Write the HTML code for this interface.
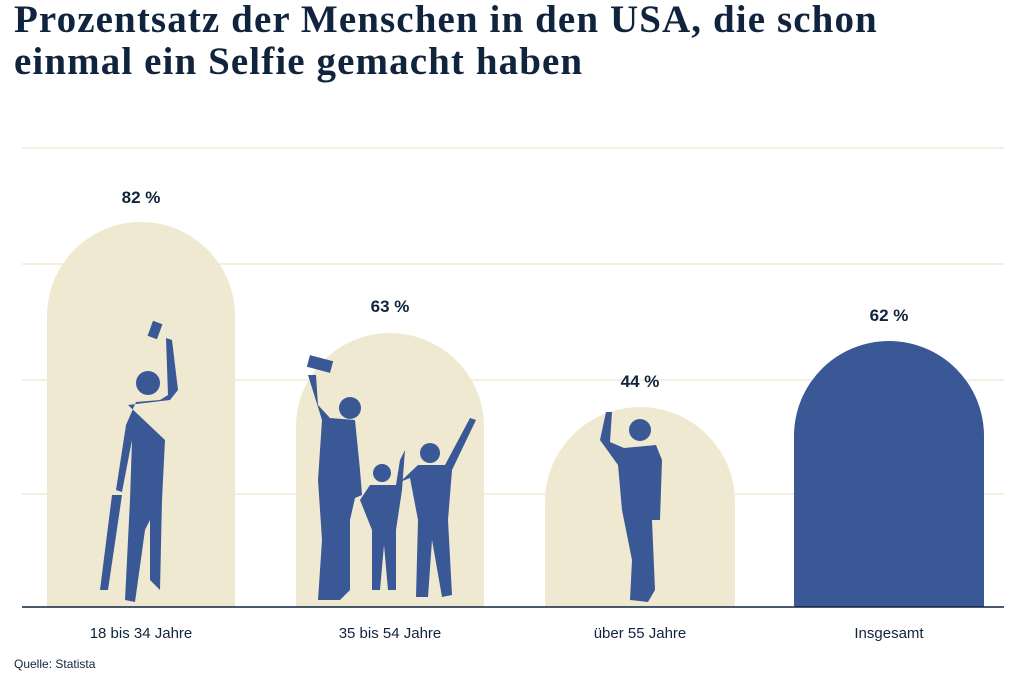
<!DOCTYPE html>
<html><head><meta charset="utf-8"><style>
html,body{margin:0;padding:0;background:#fff;}
body{width:1024px;height:677px;position:relative;overflow:hidden;font-family:"Liberation Sans",sans-serif;}
h1{position:absolute;left:14px;top:-1px;margin:0;font-family:"Liberation Serif",serif;font-weight:bold;font-size:39px;line-height:42px;color:#10243d;letter-spacing:1.1px;}
</style></head><body>
<h1>Prozentsatz der Menschen in den USA, die schon<br>einmal ein Selfie gemacht haben</h1>
<svg width="1024" height="677" style="position:absolute;left:0;top:0">
<g stroke="#f1ecd6" stroke-width="1.5">
<line x1="22" y1="148" x2="1004" y2="148"/><line x1="22" y1="264" x2="1004" y2="264"/>
<line x1="22" y1="380" x2="1004" y2="380"/><line x1="22" y1="494" x2="1004" y2="494"/>
</g>
<g fill="#efe9d1">
<path d="M47 607 V316 A94 94 0 0 1 235 316 V607 Z"/>
<path d="M296 607 V427 A94 94 0 0 1 484 427 V607 Z"/>
<path d="M545 607 V502 A95 95 0 0 1 735 502 V607 Z"/>
</g>
<path fill="#3a5896" d="M794 607 V436 A95 95 0 0 1 984 436 V607 Z"/>
<g fill="#3a5896">
<circle cx="148" cy="383" r="12"/>
<path d="M128 405 L170 400 L178 390 L172 340 L166 338 L168 395 L160 400 L136 402 L126 425 L116 490 L122 492 L132 440 L130 500 L125 600 L135 602 L145 530 L150 520 L150 580 L160 590 L162 500 L165 440 Z"/>
<rect x="150" y="322" width="10" height="16" transform="rotate(20 155 330)"/>
<path d="M112 495 L122 495 L108 590 L100 590 Z"/>
<circle cx="350" cy="408" r="11"/>
<path d="M308 375 L316 375 L318 405 L330 418 L355 420 L360 470 L362 495 L355 498 L350 520 L350 590 L340 600 L318 600 L322 540 L318 480 L322 420 Z"/>
<rect x="308" y="358" width="24" height="12" transform="rotate(15 320 364)"/>
<circle cx="382" cy="473" r="9"/>
<path d="M370 485 L396 485 L400 460 L405 450 L402 490 L396 530 L396 590 L388 590 L384 545 L380 590 L372 590 L372 530 L360 500 Z"/>
<circle cx="430" cy="453" r="10"/>
<path d="M418 465 L445 465 L470 418 L476 420 L452 470 L448 520 L452 595 L442 597 L432 540 L428 597 L416 597 L418 520 L410 478 L400 482 Z"/>
<circle cx="640" cy="430" r="11"/>
<path d="M600 440 L606 412 L612 412 L610 442 L624 448 L656 445 L662 460 L660 520 L652 520 L655 590 L648 602 L630 600 L632 560 L622 510 L618 465 Z"/>
</g>
<line x1="22" y1="607" x2="1004" y2="607" stroke="#10243d" stroke-width="1.5"/>
<g font-family="Liberation Sans,sans-serif" font-weight="bold" font-size="17" fill="#10243d" text-anchor="middle">
<text x="141" y="203">82 %</text><text x="390" y="312">63 %</text>
<text x="640" y="387">44 %</text><text x="889" y="321">62 %</text>
</g>
<g font-family="Liberation Sans,sans-serif" font-size="15" fill="#10243d" text-anchor="middle">
<text x="141" y="638">18 bis 34 Jahre</text><text x="390" y="638">35 bis 54 Jahre</text>
<text x="640" y="638">über 55 Jahre</text><text x="889" y="638">Insgesamt</text>
</g>
<text x="14" y="668" font-family="Liberation Sans,sans-serif" font-size="12" fill="#10243d">Quelle: Statista</text>
</svg>
</body></html>
